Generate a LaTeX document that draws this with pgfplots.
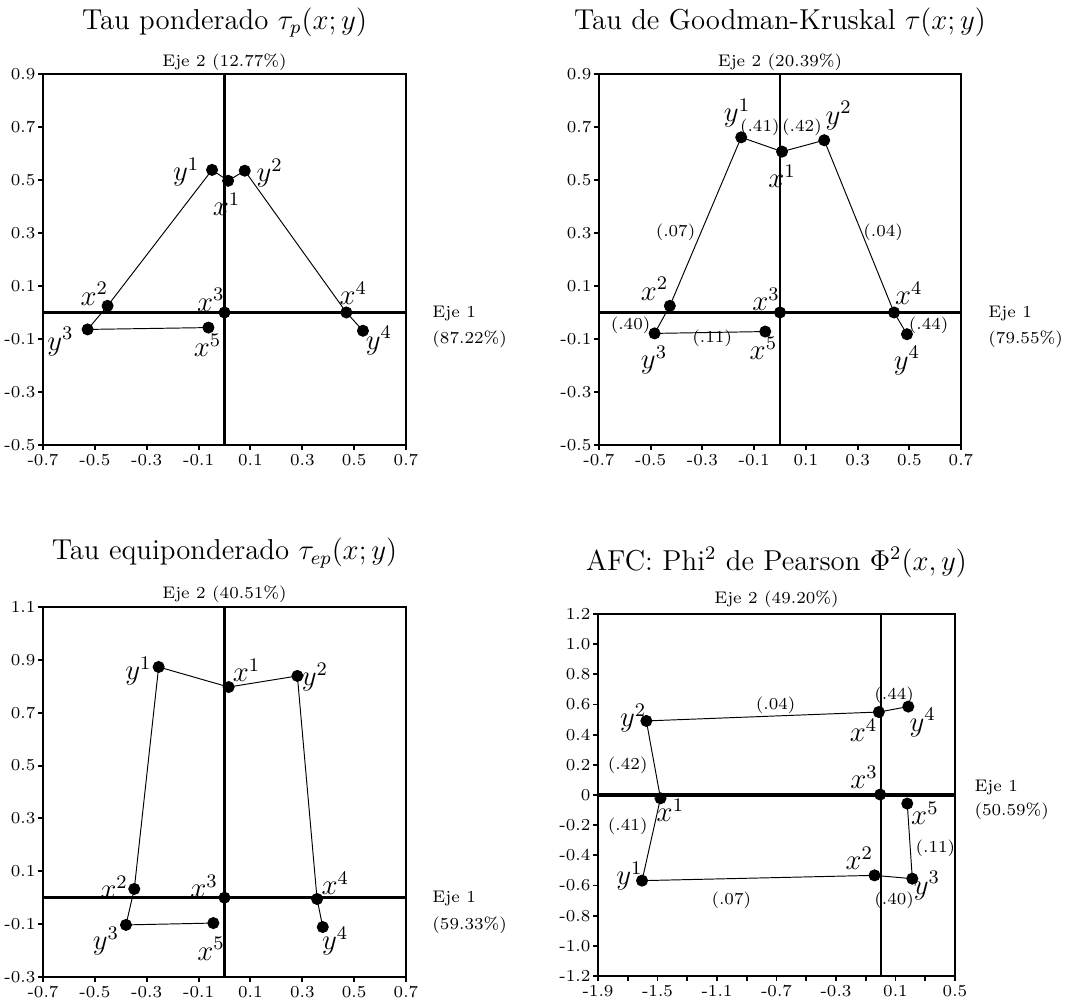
\documentclass[border=0pt]{standalone}
\usepackage{pgfplots}
\pgfplotsset{compat=1.18}
\begin{document}
\begin{tikzpicture}
\useasboundingbox (0,0) rectangle (445pt,417.08pt);
\pgfplotsset{
  corr/.style={
    scale only axis, clip=false,
    axis line style={line width=1.15pt},
    tick align=outside, xtick pos=bottom, ytick pos=left,
    major tick length=2pt, minor tick length=2pt,
    tick style={line width=0.8pt, black},
    tick label style={font=\fontsize{7}{8}\selectfont},
    yticklabel style={inner sep=1pt},
    xticklabel style={inner sep=1.5pt},
  },
  pts/.style={black, line width=0.4pt, mark=*, mark size=2.3pt, mark options={solid, fill=black}},
}
\tikzset{
  lab/.style={font=\fontsize{12}{14}\selectfont, inner sep=0pt},
  num/.style={font=\fontsize{7}{8}\selectfont, inner sep=0pt},
  tit/.style={font=\fontsize{12}{14}\selectfont, anchor=base},
  eje/.style={font=\fontsize{7}{8}\selectfont, anchor=base west},
  hz/.style={line width=1.3pt},
  vz/.style={line width=0.9pt},
}

% Panel 1
\begin{axis}[corr, at={(17.92pt,231.67pt)}, width=151.25pt, height=154.58pt,
  xmin=-0.7, xmax=0.7, ymin=-0.5, ymax=0.9,
  xtick={-0.7,-0.5,-0.3,-0.1,0.1,0.3,0.5,0.7},
  xticklabels={-0.7,-0.5,-0.3,-0.1,0.1,0.3,0.5,0.7},
  ytick={-0.5,-0.3,-0.1,0.1,0.3,0.5,0.7,0.9},
  yticklabels={-0.5,-0.3,-0.1,0.1,0.3,0.5,0.7,0.9}]
\draw[hz] (axis cs:-0.7,0) -- (axis cs:0.7,0);
\draw[vz] (axis cs:0,-0.5) -- (axis cs:0,0.9);
\addplot[pts] coordinates {(-0.062,-0.057) (-0.528,-0.064) (-0.451,0.025) (-0.048,0.538) (0.014,0.497) (0.078,0.535) (0.470,0.0) (0.534,-0.069)};
\addplot[pts, only marks] coordinates {(0,0)};
\node[tit, yshift=18.6pt] at (rel axis cs:0.5,1) {Tau ponderado $\tau_p(x;y)$};
\node[eje, anchor=base, yshift=3.2pt] at (rel axis cs:0.5,1) {Eje 2 (12.77\%)};
\node[eje, xshift=7.5pt, yshift=-2pt] at (axis cs:0.7,0) {Eje 1};
\node[eje, xshift=7.5pt, yshift=-13.1pt] at (axis cs:0.7,0) {(87.22\%)};
\node[lab] at (axis cs:-0.148,0.529) {$y^1$};
\node[lab] at (axis cs:0.008,0.409) {$x^1$};
\node[lab] at (axis cs:0.174,0.525) {$y^2$};
\node[lab] at (axis cs:-0.502,0.070) {$x^2$};
\node[lab] at (axis cs:-0.053,0.047) {$x^3$};
\node[lab] at (axis cs:0.497,0.072) {$x^4$};
\node[lab] at (axis cs:-0.633,-0.110) {$y^3$};
\node[lab] at (axis cs:-0.065,-0.123) {$x^5$};
\node[lab] at (axis cs:0.596,-0.106) {$y^4$};
\end{axis}

% Panel 2
\begin{axis}[corr, at={(249.58pt,231.67pt)}, width=150.83pt, height=154.58pt,
  xmin=-0.7, xmax=0.7, ymin=-0.5, ymax=0.9,
  xtick={-0.7,-0.5,-0.3,-0.1,0.1,0.3,0.5,0.7},
  xticklabels={-0.7,-0.5,-0.3,-0.1,0.1,0.3,0.5,0.7},
  ytick={-0.5,-0.3,-0.1,0.1,0.3,0.5,0.7,0.9},
  yticklabels={-0.5,-0.3,-0.1,0.1,0.3,0.5,0.7,0.9}]
\draw[hz] (axis cs:-0.7,0) -- (axis cs:0.7,0);
\draw[vz] (axis cs:0,-0.5) -- (axis cs:0,0.9);
\addplot[pts] coordinates {(-0.057,-0.072) (-0.485,-0.079) (-0.426,0.025) (-0.150,0.661) (0.008,0.607) (0.171,0.650) (0.441,0.0) (0.491,-0.082)};
\addplot[pts, only marks] coordinates {(0,0)};
\node[tit, yshift=18.6pt] at (rel axis cs:0.5,1) {Tau de Goodman-Kruskal $\tau(x;y)$};
\node[eje, anchor=base, yshift=3.2pt] at (rel axis cs:0.5,1) {Eje 2 (20.39\%)};
\node[eje, xshift=7.9pt, yshift=-2pt] at (axis cs:0.7,0) {Eje 1};
\node[eje, xshift=7.9pt, yshift=-13.1pt] at (axis cs:0.7,0) {(79.55\%)};
\node[lab] at (axis cs:-0.166,0.752) {$y^1$};
\node[lab] at (axis cs:0.008,0.513) {$x^1$};
\node[lab] at (axis cs:0.227,0.743) {$y^2$};
\node[lab] at (axis cs:-0.485,0.089) {$x^2$};
\node[lab] at (axis cs:-0.054,0.050) {$x^3$};
\node[lab] at (axis cs:0.498,0.072) {$x^4$};
\node[lab] at (axis cs:-0.487,-0.179) {$y^3$};
\node[lab] at (axis cs:-0.064,-0.135) {$x^5$};
\node[lab] at (axis cs:0.491,-0.182) {$y^4$};
\node[num] at (axis cs:-0.078,0.697) {(.41)};
\node[num] at (axis cs:0.085,0.697) {(.42)};
\node[num] at (axis cs:-0.404,0.302) {(.07)};
\node[num] at (axis cs:0.399,0.302) {(.04)};
\node[num] at (axis cs:-0.578,-0.050) {(.40)};
\node[num] at (axis cs:0.575,-0.050) {(.44)};
\node[num] at (axis cs:-0.262,-0.097) {(.11)};
\end{axis}

% Panel 3
\begin{axis}[corr, at={(17.92pt,10.0pt)}, width=151.25pt, height=154.17pt,
  xmin=-0.7, xmax=0.7, ymin=-0.3, ymax=1.1,
  xtick={-0.7,-0.5,-0.3,-0.1,0.1,0.3,0.5,0.7},
  xticklabels={-0.7,-0.5,-0.3,-0.1,0.1,0.3,0.5,0.7},
  ytick={-0.3,-0.1,0.1,0.3,0.5,0.7,0.9,1.1},
  yticklabels={-0.3,-0.1,0.1,0.3,0.5,0.7,0.9,1.1}]
\draw[hz] (axis cs:-0.7,0) -- (axis cs:0.7,0);
\draw[vz] (axis cs:0,-0.3) -- (axis cs:0,1.1);
\addplot[pts] coordinates {(-0.043,-0.096) (-0.380,-0.103) (-0.348,0.033) (-0.254,0.873) (0.016,0.797) (0.281,0.839) (0.357,-0.005) (0.379,-0.111)};
\addplot[pts, only marks] coordinates {(0,0)};
\node[tit, yshift=19.6pt] at (rel axis cs:0.5,1) {Tau equiponderado $\tau_{ep}(x;y)$};
\node[eje, anchor=base, yshift=3.7pt] at (rel axis cs:0.5,1) {Eje 2 (40.51\%)};
\node[eje, xshift=7.5pt, yshift=-1.8pt] at (axis cs:0.7,0) {Eje 1};
\node[eje, xshift=7.5pt, yshift=-13.3pt] at (axis cs:0.7,0) {(59.33\%)};
\node[lab] at (axis cs:-0.332,0.858) {$y^1$};
\node[lab] at (axis cs:0.085,0.860) {$x^1$};
\node[lab] at (axis cs:0.349,0.835) {$y^2$};
\node[lab] at (axis cs:-0.426,0.040) {$x^2$};
\node[lab] at (axis cs:-0.079,0.043) {$x^3$};
\node[lab] at (axis cs:0.427,0.055) {$x^4$};
\node[lab] at (axis cs:-0.457,-0.164) {$y^3$};
\node[lab] at (axis cs:-0.052,-0.193) {$x^5$};
\node[lab] at (axis cs:0.427,-0.164) {$y^4$};
\end{axis}

% Panel 4
\begin{axis}[corr, at={(249.17pt,10.42pt)}, width=148.75pt, height=150.83pt,
  xmin=-1.9, xmax=0.5, ymin=-1.2, ymax=1.2,
  xtick={-1.9,-1.5,-1.1,-0.7,-0.3,0.1,0.5},
  xticklabels={-1.9,-1.5,-1.1,-0.7,-0.3,0.1,0.5},
  minor xtick={-1.7,-1.3,-0.9,-0.5,-0.1,0.3},
  ytick={-1.2,-1.0,-0.8,-0.6,-0.4,-0.2,0,0.2,0.4,0.6,0.8,1.0,1.2},
  yticklabels={-1.2,-1.0,-0.8,-0.6,-0.4,-0.2,0,0.2,0.4,0.6,0.8,1.0,1.2}]
\draw[hz] (axis cs:-1.9,0) -- (axis cs:0.5,0);
\draw[vz] (axis cs:0,-1.2) -- (axis cs:0,1.2);
\addplot[pts] coordinates {(0.186,0.586) (-0.012,0.550) (-1.575,0.491) (-1.480,-0.022) (-1.604,-0.568) (-0.041,-0.533) (0.213,-0.555) (0.179,-0.057)};
\addplot[pts, only marks] coordinates {(-0.003,0.003)};
\node[tit, yshift=18.3pt] at (rel axis cs:0.5,1) {AFC: Phi$^2$ de Pearson $\Phi^2(x,y)$};
\node[eje, anchor=base, yshift=4.2pt] at (rel axis cs:0.5,1) {Eje 2 (49.20\%)};
\node[eje, xshift=4.6pt, yshift=1.4pt] at (axis cs:0.5,0) {Eje 1};
\node[eje, xshift=4.6pt, yshift=-8.6pt] at (axis cs:0.5,0) {(50.59\%)};
\node[lab] at (axis cs:-1.664,0.508) {$y^2$};
\node[lab] at (axis cs:-0.115,0.427) {$x^4$};
\node[lab] at (axis cs:0.283,0.480) {$y^4$};
\node[lab] at (axis cs:-0.111,0.117) {$x^3$};
\node[lab] at (axis cs:-1.413,-0.102) {$x^1$};
\node[lab] at (axis cs:0.298,-0.122) {$x^5$};
\node[lab] at (axis cs:-0.144,-0.420) {$x^2$};
\node[lab] at (axis cs:-1.689,-0.537) {$y^1$};
\node[lab] at (axis cs:0.311,-0.601) {$y^3$};
\node[num] at (axis cs:-0.706,0.597) {(.04)};
\node[num] at (axis cs:0.091,0.659) {(.44)};
\node[num] at (axis cs:-1.700,0.199) {(.42)};
\node[num] at (axis cs:-1.700,-0.206) {(.41)};
\node[num] at (axis cs:0.368,-0.354) {(.11)};
\node[num] at (axis cs:-1.004,-0.696) {(.07)};
\node[num] at (axis cs:0.091,-0.696) {(.40)};
\end{axis}
\end{tikzpicture}
\end{document}
